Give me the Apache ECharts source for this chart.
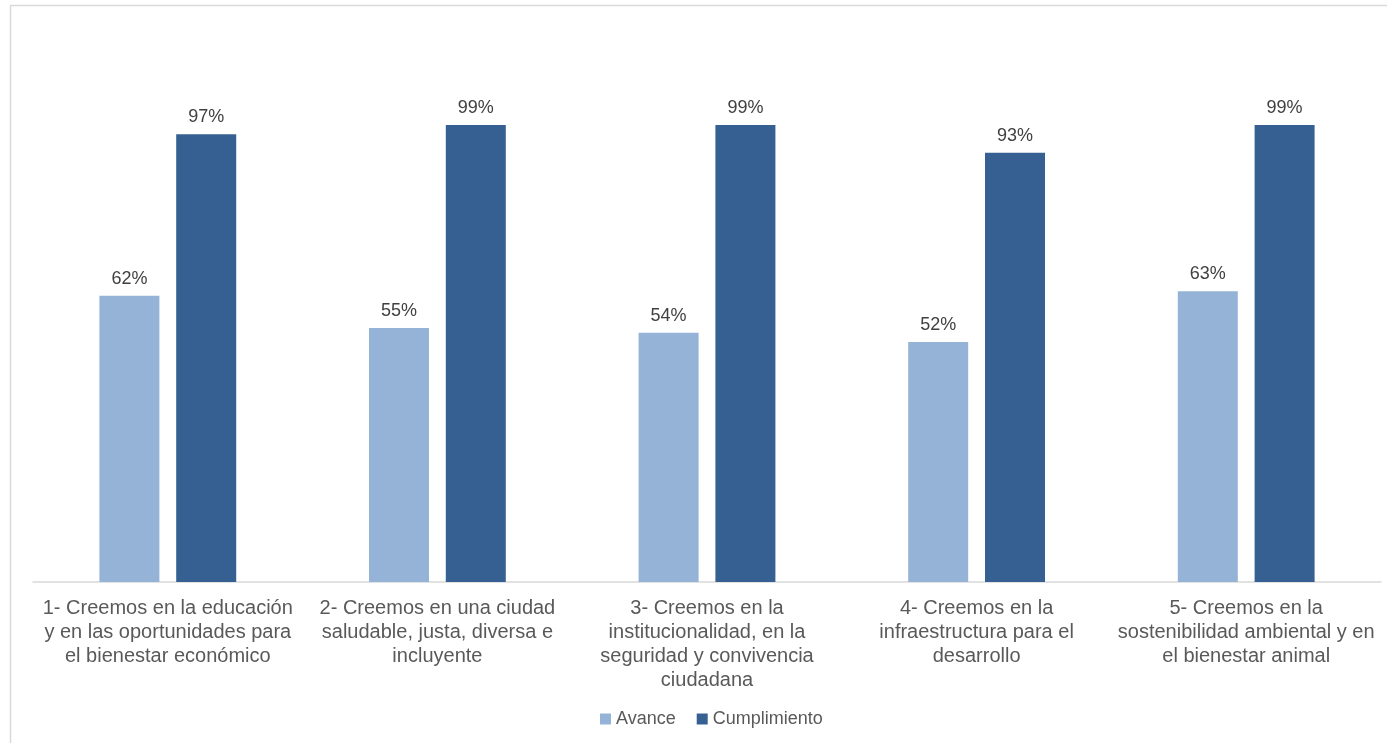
<!DOCTYPE html>
<html><head><meta charset="utf-8">
<script src="https://cdn.jsdelivr.net/npm/echarts@6/dist/echarts.min.js"></script>
<style>html,body{margin:0;padding:0;background:#fff}#c{width:1387px;height:743px}</style>
</head><body><div id="c"></div>
<script>
const categories = [
  '1- Creemos en la educación\ny en las oportunidades para\nel bienestar económico',
  '2- Creemos en una ciudad\nsaludable, justa, diversa e\nincluyente',
  '3- Creemos en la\ninstitucionalidad, en la\nseguridad y convivencia\nciudadana',
  '4- Creemos en la\ninfraestructura para el\ndesarrollo',
  '5- Creemos en la\nsostenibilidad ambiental y en\nel bienestar animal'
];
const avance = [62, 55, 54, 52, 63];
const cumplimiento = [97, 99, 99, 93, 99];

const chart = echarts.init(document.getElementById('c'));
const lbl = {show:true, position:'top', formatter:'{c}%', color:'#404040', fontSize:18, fontFamily:'Liberation Sans, Arial', distance:8};
chart.setOption({
  animation:false,
  graphic:[{type:'rect', shape:{x:10.5,y:5.5,width:1400,height:800}, style:{fill:'none', stroke:'#d9d9d9', lineWidth:1.5}}],
  grid:{left:33, right:6, top:28, bottom:161},
  legend:{bottom:10, left:595, itemWidth:11, itemHeight:11, itemGap:21, icon:'rect',
    textStyle:{color:'#595959', fontSize:18, fontFamily:'Liberation Sans, Arial'}},
  xAxis:{type:'category', data:categories,
    axisLine:{lineStyle:{color:'#d9d9d9', width:1.5}}, axisTick:{show:false},
    axisLabel:{color:'#595959', fontSize:20, lineHeight:24, fontFamily:'Liberation Sans, Arial', margin:14, interval:0}},
  yAxis:{type:'value', min:0, max:120, show:false, splitLine:{show:false}},
  series:[
    {name:'Avance', type:'bar', data:avance, barWidth:60, barGap:'28%', itemStyle:{color:'#95b3d7'}, label:lbl},
    {name:'Cumplimiento', type:'bar', data:cumplimiento, barWidth:60, itemStyle:{color:'#366092'}, label:lbl}
  ]
});
</script></body></html>
